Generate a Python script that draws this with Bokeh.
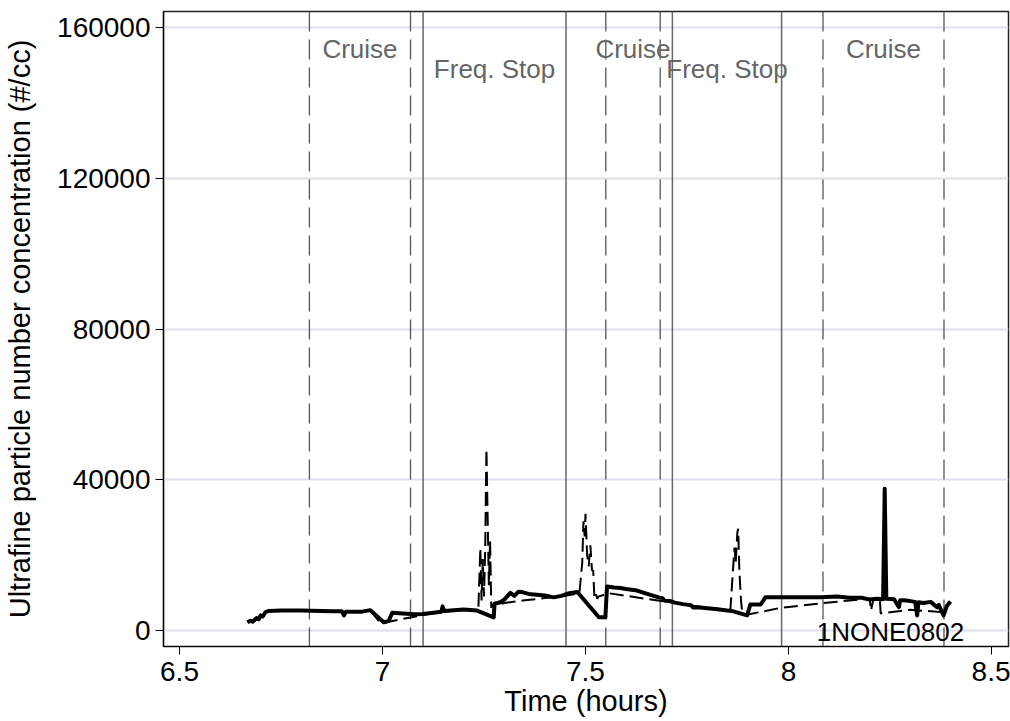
from bokeh.plotting import figure
from bokeh.models import Span, FixedTicker, Range1d
from bokeh.core.properties import value
from bokeh.embed import file_html
from bokeh.resources import INLINE

# ---------------- data ----------------
solid_t = [6.667, 6.675, 6.680, 6.690, 6.695, 6.700, 6.705, 6.712, 6.720, 6.750, 6.800, 6.850,
           6.880, 6.900, 6.905, 6.910, 6.950, 6.970, 7.003, 7.015, 7.024, 7.050, 7.080, 7.100,
           7.145, 7.148, 7.152, 7.200, 7.233, 7.274, 7.276, 7.290, 7.300, 7.315, 7.325, 7.335,
           7.344, 7.360, 7.380, 7.400, 7.422, 7.440, 7.460, 7.480, 7.533, 7.549, 7.553, 7.570,
           7.586, 7.600, 7.627, 7.650, 7.680, 7.690, 7.695, 7.709, 7.720, 7.740, 7.760, 7.765,
           7.775, 7.800, 7.820, 7.849,
           7.860, 7.898, 7.906, 7.931, 7.936, 7.943, 8.000, 8.080, 8.120, 8.150, 8.180, 8.200,
           8.218, 8.233, 8.237, 8.241, 8.260, 8.272, 8.275, 8.284, 8.300, 8.312, 8.317, 8.320,
           8.333, 8.350, 8.366, 8.370, 8.382, 8.390, 8.399]
solid_v = [2200, 2600, 2300, 3300, 3000, 4000, 3700, 4900, 5200, 5300, 5300, 5200,
           5100, 5100, 4000, 5000, 5000, 5400, 2200, 2500, 4700, 4500, 4300, 4400,
           5000, 6400, 5200, 5600, 5300, 3500, 7100, 7500, 8200, 10000, 9200, 10300,
           10200, 9700, 9500, 9300, 8800, 9200, 9900, 10200, 3500, 3500, 11700, 11400,
           11300, 11000, 10600, 9800, 8800, 8600, 7900, 7800, 7400, 7000, 6700, 6100,
           6200, 5900, 5700, 5300,
           5200, 4000, 6900, 6900, 7600, 8800, 8800, 8800, 9000, 8700, 8700, 8200,
           8400, 8300, 37600, 8400, 8300, 6200, 8000, 8000, 7800, 7600, 4000, 7500,
           7300, 7600, 6200, 6800, 4000, 6500, 7700]

dash_t = [6.970, 6.995, 7.118, 7.150, 7.200, 7.236, 7.238, 7.241, 7.244, 7.247, 7.250, 7.253,
          7.256, 7.259, 7.262, 7.265, 7.268, 7.272, 7.280, 7.300, 7.350, 7.400, 7.450, 7.475,
          7.485, 7.492, 7.495, 7.498, 7.500, 7.504, 7.508, 7.512, 7.516, 7.519, 7.522, 7.526,
          7.529, 7.532, 7.557, 7.600, 7.650, 7.709, 7.750, 7.800, 7.849, 7.857, 7.862, 7.867,
          7.870, 7.874, 7.876, 7.879, 7.883, 7.886, 7.894, 7.980, 8.079, 8.200, 8.203, 8.210,
          8.225, 8.227, 8.300, 8.374]
dash_v = [5400, 1900, 4500, 5000, 5500, 5200, 12000, 21800, 8000, 19000, 9000, 22000,
          48200, 30000, 12000, 24000, 6000, 7000, 6600, 7300, 8000, 8600, 9200, 9700,
          9900, 18000, 29000, 25000, 31000, 20000, 17000, 22600, 16000, 15900, 8500, 9600,
          8400, 9000, 9900, 9200, 8400, 7500, 6800, 6100, 5400, 5600, 14000, 22000,
          18000, 26000, 27000, 16000, 8000, 4900, 4100, 6000, 7200, 8500, 5300, 8600,
          8500, 4500, 5500, 4900]

cruise_start = [6.820, 7.550, 8.085]
cruise_end = [7.069, 7.684, 8.383]
stop_start = [7.100, 7.714]
stop_end = [7.452, 7.983]
cruise_label = "Cruise"
stop_label = "Freq. Stop"
cruise_label_y = 154400
stop_label_y = 149100

run_id = "1NONE0802"
run_id_x = 8.251
run_id_y = -450

x_ticks = [6.5, 7, 7.5, 8, 8.5]
x_tick_labels = ["6.5", "7", "7.5", "8", "8.5"]
y_ticks = [0, 40000, 80000, 120000, 160000]
y_tick_labels = ["0", "40000", "80000", "120000", "160000"]

FONT = "Liberation Sans"

p = figure(width=1010, height=721, output_backend="svg", toolbar_location=None,
           x_range=Range1d(6.4606, 8.5419), y_range=Range1d(-4250, 164330),
           min_border_left=163, min_border_right=2, min_border_top=11, min_border_bottom=75)

p.background_fill_color = "white"
p.border_fill_color = "white"
p.outline_line_color = "#222222"
p.outline_line_width = 1.5

p.xgrid.visible = False
p.ygrid.ticker = FixedTicker(ticks=y_ticks)
p.ygrid.grid_line_color = "#dedeed"
p.ygrid.grid_line_width = 2

for ax, ticks, labels in ((p.xaxis[0], x_ticks, x_tick_labels), (p.yaxis[0], y_ticks, y_tick_labels)):
    ax.ticker = FixedTicker(ticks=ticks)
    ax.major_label_overrides = {t: l for t, l in zip(ticks, labels)}
    ax.major_tick_in = 0
    ax.major_tick_out = 8
    ax.minor_tick_in = 0
    ax.minor_tick_out = 0
    ax.major_tick_line_color = "black"
    ax.axis_line_color = "black"
    ax.axis_line_width = 1.2
    ax.major_label_text_font = FONT
    ax.major_label_text_font_size = "28px"
    ax.major_label_text_color = "black"
    ax.axis_label_text_font = FONT
    ax.axis_label_text_font_size = "29px"
    ax.axis_label_text_font_style = "normal"
    ax.axis_label_text_color = "black"

p.xaxis.axis_label = "Time (hours)"
p.yaxis.axis_label = "Ultrafine particle number concentration (#/cc)"
p.xaxis.major_label_standoff = 7
p.xaxis.axis_label_standoff = 1
p.yaxis.major_label_standoff = 5
p.yaxis.axis_label_standoff = 18

for x in cruise_start + cruise_end:
    p.add_layout(Span(location=x, dimension="height", line_color="#555555",
                      line_dash="20 8", line_width=1.3, level="underlay"))
for x in stop_start + stop_end:
    p.add_layout(Span(location=x, dimension="height", line_color="#666666",
                      line_width=1.5, level="underlay"))

lab_x = [(a + b) / 2 for a, b in zip(cruise_start, cruise_end)] + \
        [(a + b) / 2 for a, b in zip(stop_start, stop_end)]
lab_y = [cruise_label_y] * len(cruise_start) + [stop_label_y] * len(stop_start)
lab_t = [cruise_label] * len(cruise_start) + [stop_label] * len(stop_start)
p.text(x=lab_x, y=lab_y, text=lab_t, text_font=value(FONT), text_font_size="26px",
       text_color="#666666", text_align="center", text_baseline="middle")

p.line(dash_t, dash_v, line_color="black", line_width=2, line_dash="14 6")
p.line(solid_t, solid_v, line_color="black", line_width=4, line_join="round")

p.text(x=[run_id_x], y=[run_id_y], text=[run_id], text_font=value(FONT), text_font_size="26px",
       text_color="black", text_align="center", text_baseline="middle")

open("out.html", "w").write(file_html(p, INLINE))
